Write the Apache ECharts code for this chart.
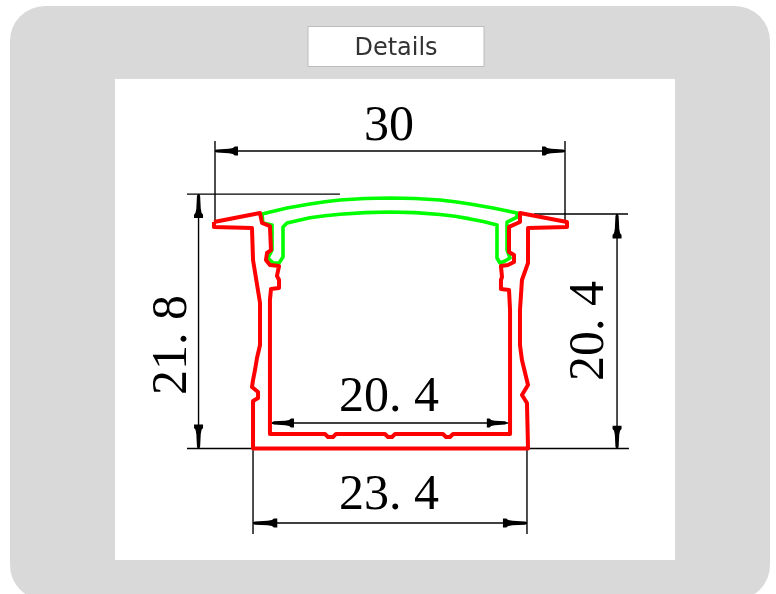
<!DOCTYPE html>
<html>
<head>
<meta charset="utf-8">
<style>html,body{margin:0;padding:0;background:#fff}#c{width:776px;height:594px}</style>
<script src="https://cdn.jsdelivr.net/npm/echarts@6/dist/echarts.min.js"></script>
</head>
<body>
<div id="c"></div>
<script>
// All geometry in millimetres: x from the profile's centre line, y from its base.
var housingOutline = [[-15.09,19.41],[-11.14,20.18],[-10.97,19.33],[-10.29,19.07],[-10.2,17.01],[-10.54,16.76],[-10.63,16.16],[-10.29,15.73],[-9.51,15.64],[-9.69,14.79],[-9.51,14.44],[-9.51,13.76],[-10.2,13.67],[-10.29,12.73],[-10.29,1.24],[-5.57,1.24],[-5.31,0.99],[-4.89,0.99],[-4.63,1.24],[-0.43,1.24],[-0.17,0.99],[0.17,0.99],[0.43,1.24],[4.54,1.24],[4.8,0.99],[5.14,0.99],[5.4,1.24],[10.29,1.24],[10.29,11.87],[10.2,13.59],[9.51,13.67],[9.51,14.44],[9.6,14.7],[9.51,15.64],[10.11,15.73],[10.63,15.99],[10.63,16.59],[10.2,16.84],[10.2,18.99],[11.14,19.41],[11.14,20.18],[15.17,19.41],[15.17,18.99],[11.83,18.9],[11.83,15.9],[11.31,14.44],[11.14,11.87],[11.14,8.87],[11.31,7.59],[11.83,5.44],[11.31,4.59],[11.74,3.9],[11.83,0],[-11.74,0],[-11.74,4.07],[-11.31,4.33],[-11.31,4.84],[-11.83,5.27],[-11.74,5.87],[-11.57,6.73],[-11.4,7.76],[-11.14,8.87],[-11.14,12.47],[-11.74,16.16],[-11.83,18.9],[-15.09,18.99],[-15.09,19.41]];
var coverOutline = [[-10.97,20.1],[-8.83,20.61],[-6.86,20.96],[-5.57,21.15],[-4.29,21.3],[-2.14,21.43],[0,21.47],[2.14,21.43],[4.29,21.3],[5.57,21.15],[6.86,20.96],[8.83,20.61],[10.89,20.18],[10.89,19.84],[10.03,19.41],[10.03,17.01],[10.29,16.33],[9.86,16.07],[9.43,15.9],[9.17,16.33],[9.17,19.16],[8,19.45],[6.86,19.68],[5.57,19.9],[4.29,20.05],[2.14,20.22],[0,20.27],[-2.14,20.22],[-4.29,20.08],[-5.57,19.95],[-6.86,19.78],[-8.83,19.33],[-9.17,18.99],[-9.17,16.41],[-9.51,15.9],[-10.03,15.9],[-10.46,16.33],[-10.11,17.01],[-10.11,19.16],[-10.89,19.33],[-10.97,20.1]];
// Each entry: [x1, y1, x2, y2] of one thin dimension or extension line.
var dimensionLines = [
  [-15,25.5,15,25.5],[-15,26.36,-15,19.41],[15,26.36,15,19.41],
  [-17.4,21.8,-4.29,21.8],[-17.4,0,-11.74,0],[-16.41,0,-16.41,21.8],
  [12.34,20.1,20.4,20.1],[11.83,0,20.48,0],[19.46,0,19.46,20.1],
  [-11.74,0,-11.74,-7.33],[11.74,0,11.74,-7.33],[-11.74,-6.39,11.74,-6.39],
  [-10.11,2.19,10.29,2.19]
];
// Each entry: [tipX, tipY, tailX, tailY].
var arrowHeads = [
  [-15,25.5,-13.03,25.5],[15,25.5,13.03,25.5],
  [-16.41,21.8,-16.41,19.75],[-16.41,0,-16.41,2.05],
  [19.46,20.1,19.46,18],[19.46,0,19.46,1.95],
  [-11.74,-6.39,-9.66,-6.39],[11.74,-6.39,9.68,-6.39],
  [-10.11,2.19,-8.23,2.19],[10,2.19,8.3,2.19]
];
var dimensionTexts = ["30","20. 4","23. 4","21. 8","20. 4"];
var dimensionTextX = [-0.09,-0.09,-0.09,-18.65,17.1];
var dimensionTextY = [27.6,4.38,-4.1,8.87,10.07];
var dimensionTextTurned = [0,0,0,1,1];
var buttonText = "Details";

var PX = 11.667;
var chart = echarts.init(document.getElementById('c'), null, {renderer:'canvas'});

function arrowItem(params, api){
  var a = api.coord([api.value(0), api.value(1)]);
  var b = api.coord([api.value(2), api.value(3)]);
  var dx = b[0]-a[0], dy = b[1]-a[1], len = Math.sqrt(dx*dx+dy*dy);
  var ux = dx/len, uy = dy/len, nx = -uy, ny = ux;
  var prof = [[0,0.8],[0.08,1.6],[0.6,2.2],[0.78,3],[0.86,4.5],[1,4.5]];
  var pts = [];
  prof.forEach(function(p){ pts.push([a[0]+ux*len*p[0]+nx*p[1], a[1]+uy*len*p[0]+ny*p[1]]); });
  prof.slice().reverse().forEach(function(p){ pts.push([a[0]+ux*len*p[0]-nx*p[1], a[1]+uy*len*p[0]-ny*p[1]]); });
  return {type:'polygon', shape:{points:pts}, style:{fill:'#000'}};
}
function segItem(params, api){
  var a = api.coord([api.value(0), api.value(1)]);
  var b = api.coord([api.value(2), api.value(3)]);
  return {type:'line', shape:{x1:a[0],y1:a[1],x2:b[0],y2:b[1]}, style:{stroke:'#000',lineWidth:1.4}};
}
function textItem(params, api){
  var p = api.coord([api.value(0), api.value(1)]);
  return {type:'text', x:p[0], y:p[1], rotation: api.value(2) ? Math.PI/2 : 0,
    style:{text:dimensionTexts[params.dataIndex], fill:'#000', align:'center', verticalAlign:'middle',
      font:'50px "Liberation Serif", serif'}};
}

chart.setOption({
  animation:false,
  backgroundColor:'#ffffff',
  tooltip:{show:false},
  graphic:[
    {type:'rect', z:-30, shape:{x:10,y:6,width:760,height:594,r:35}, style:{fill:'#d9d9d9'}},
    {type:'rect', z:-20, shape:{x:115,y:79,width:560,height:481}, style:{fill:'#ffffff'}},
    {type:'rect', z:-20, shape:{x:308,y:26.5,width:176,height:40}, style:{fill:'#ffffff',stroke:'#bcbcbc',lineWidth:1}},
    {type:'text', z:-10, x:396, y:48.5, style:{text:buttonText, fill:'#333', align:'center', verticalAlign:'middle', font:'24px "DejaVu Sans", sans-serif'}}
  ],
  grid:{left:0,right:0,top:0,bottom:0,containLabel:false},
  xAxis:{type:'value',show:false,min:-390/PX,max:386/PX,splitLine:{show:false}},
  yAxis:{type:'value',show:false,min:(448.5-594)/PX,max:448.5/PX,splitLine:{show:false}},
  series:[
    {type:'custom',name:'dimension lines',silent:true,z:2,coordinateSystem:'cartesian2d',renderItem:segItem,data:dimensionLines,encode:{x:[0,2],y:[1,3]},clip:false},
    {type:'custom',name:'arrows',silent:true,z:3,coordinateSystem:'cartesian2d',renderItem:arrowItem,data:arrowHeads,encode:{x:[0,2],y:[1,3]},clip:false},
    {type:'line',name:'cover',silent:true,z:4,data:coverOutline,showSymbol:false,symbol:'none',lineStyle:{color:'#00ff00',width:3.6,join:'round'},clip:false},
    {type:'line',name:'housing',silent:true,z:5,data:housingOutline,showSymbol:false,symbol:'none',lineStyle:{color:'#ff0000',width:4,join:'round'},clip:false},
    {type:'custom',name:'dimension text',silent:true,z:6,coordinateSystem:'cartesian2d',renderItem:textItem,
      data:dimensionTexts.map(function(t,i){return [dimensionTextX[i],dimensionTextY[i],dimensionTextTurned[i]];}),encode:{x:0,y:1},clip:false}
  ]
});
</script>
</body>
</html>
